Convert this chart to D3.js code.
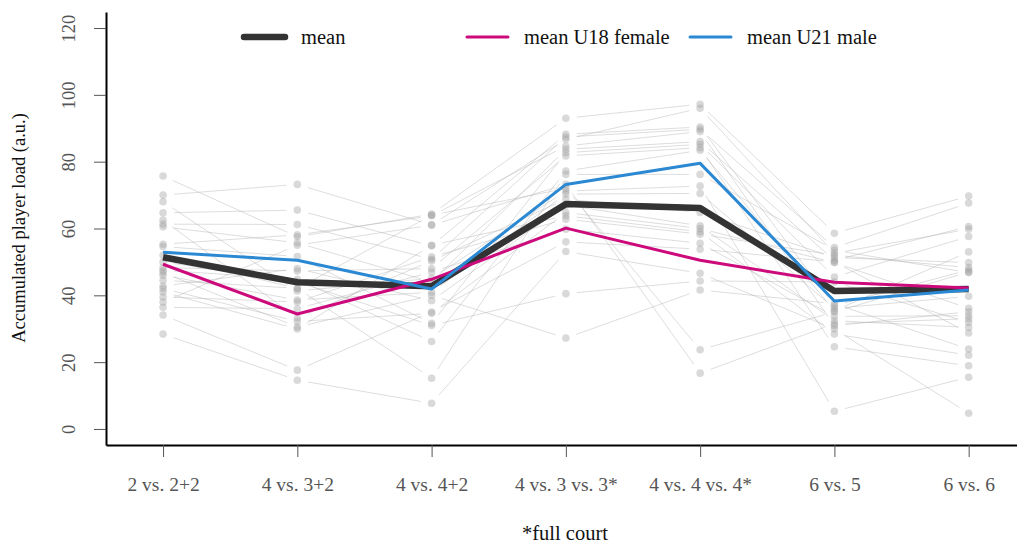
<!DOCTYPE html>
<html lang="en">
<head>
<meta charset="UTF-8">
<title>Accumulated player load</title>
<script src="https://d3js.org/d3.v7.min.js"></script>
<style>
  body { margin: 0; background: #fff; }
  svg text { font-family: "Liberation Serif", "Times New Roman", serif; }
</style>
</head>
<body>
<svg id="chart" width="1017" height="544"></svg>
<script>
// drill formats (x categories)
const drills = ["2 vs. 2+2", "4 vs. 3+2", "4 vs. 4+2", "4 vs. 3 vs. 3*", "4 vs. 4 vs. 4*", "6 vs. 5", "6 vs. 6"];

// individual players, one array per drill (same player order in each)
const load2v2 = [70.0, 75.7, 64.7, 61.3, 55.3, 60.5, 54.6, 48.3, 47.5, 44.5, 68.0, 46.0, 62.5, 42.8, 42.0, 41.0, 39.5, 36.4, 34.1, 28.4, 50.0, 46.8, 52.0, 38.0];
const load4v3 = [73.2, 57.5, 65.5, 61.2, 58.1, 55.7, 51.6, 47.3, 44.8, 42.1, 41.3, 38.6, 33.2, 48.0, 32.2, 29.9, 38.0, 36.0, 17.6, 14.6, 44.0, 30.5, 42.0, 55.0];
const load4v4 = [61.1, 64.3, 54.8, 50.8, 63.8, 44.0, 31.6, 48.0, 26.2, 15.2, 45.1, 40.9, 50.3, 38.4, 34.6, 55.0, 51.5, 47.0, 35.0, 7.7, 31.0, 40.0, 64.0, 61.0];
const load4v3v3 = [86.7, 93.0, 88.2, 87.4, 84.7, 83.7, 82.7, 81.7, 77.2, 76.2, 71.2, 70.3, 68.8, 67.0, 64.8, 63.8, 62.8, 59.8, 56.0, 53.1, 40.5, 27.2, 72.0, 73.2];
const load4v4v4 = [96.0, 97.2, 90.4, 89.7, 89.0, 86.0, 85.2, 84.2, 83.4, 76.2, 72.7, 70.5, 64.8, 60.8, 60.0, 59.0, 58.3, 55.6, 53.8, 46.6, 44.3, 41.6, 23.7, 16.7];
const load6v5 = [52.6, 58.6, 36.9, 54.3, 30.9, 50.5, 45.5, 24.6, 35.4, 53.5, 5.3, 36.1, 51.3, 32.4, 49.8, 28.4, 52.0, 33.7, 50.0, 29.9, 44.0, 37.5, 35.0, 31.5];
const load6v6 = [59.8, 69.7, 47.6, 67.6, 35.1, 60.6, 57.6, 18.9, 53.0, 46.8, 15.5, 39.7, 49.8, 30.4, 36.1, 22.1, 48.3, 33.9, 28.7, 4.7, 31.9, 23.9, 47.0, 33.0];

// group means
const meanAll = [51.4, 43.9, 42.7, 67.3, 66.1, 41.3, 41.9];
const meanU18 = [49.3, 34.4, 44.8, 60.1, 50.5, 43.9, 42.2];
const meanU21 = [52.9, 50.5, 41.9, 73.2, 79.5, 38.3, 41.6];

const yTicks = [0, 20, 40, 60, 80, 100, 120];

const columns = [load2v2, load4v3, load4v4, load4v3v3, load4v4v4, load6v5, load6v6];
const nPlayers = load2v2.length;

const svg = d3.select("#chart");

const x = d3.scaleLinear().domain([-0.425, 6.36]).range([106, 1017]);
const y = d3.scaleLinear().domain([-4.8, 124.8]).range([445, 12]);

// individual player lines (type "b": gaps around the points)
const gap = 11;
const segs = [];
for (let p = 0; p < nPlayers; p++) {
    for (let i = 0; i < columns.length - 1; i++) {
        const x1 = x(i), y1 = y(columns[i][p]);
        const x2 = x(i + 1), y2 = y(columns[i + 1][p]);
        const len = Math.hypot(x2 - x1, y2 - y1);
        const ux = (x2 - x1) / len, uy = (y2 - y1) / len;
        segs.push([x1 + ux * gap, y1 + uy * gap, x2 - ux * gap, y2 - uy * gap]);
    }
}

svg.append("g")
    .selectAll("line")
    .data(segs)
    .join("line")
    .attr("x1", d => d[0]).attr("y1", d => d[1])
    .attr("x2", d => d[2]).attr("y2", d => d[3])
    .attr("stroke", "#b4b4b4")
    .attr("stroke-opacity", 0.45)
    .attr("stroke-width", 1);

const pts = [];
columns.forEach((col, i) => col.forEach(v => pts.push([i, v])));

svg.append("g")
    .selectAll("circle")
    .data(pts)
    .join("circle")
    .attr("cx", d => x(d[0]))
    .attr("cy", d => y(d[1]))
    .attr("r", 3.8)
    .attr("fill", "#a0a0a0")
    .attr("fill-opacity", 0.4);

// mean lines
const line = d3.line().x((d, i) => x(i)).y(d => y(d));
const means = [
    { vals: meanAll, color: "#333333", w: 6.5 },
    { vals: meanU18, color: "#cc0a7c", w: 3 },
    { vals: meanU21, color: "#2b88d3", w: 3 }
];
svg.append("g")
    .selectAll("path")
    .data(means)
    .join("path")
    .attr("d", d => line(d.vals))
    .attr("fill", "none")
    .attr("stroke", d => d.color)
    .attr("stroke-width", d => d.w)
    .attr("stroke-linejoin", "round");

// axes
const xAxis = svg.append("g")
    .attr("transform", "translate(0,445)")
    .call(d3.axisBottom(x)
        .tickValues(d3.range(drills.length))
        .tickFormat(i => drills[i])
        .tickSize(12)
        .tickSizeOuter(0)
        .tickPadding(27));
xAxis.select(".domain").attr("stroke", "#000").attr("stroke-width", 2);
xAxis.selectAll(".tick line").attr("stroke", "#555");
xAxis.selectAll(".tick text")
    .attr("fill", "#555")
    .style("font-size", "19.5px")
    .attr("dy", "0.35em");

const yAxis = svg.append("g")
    .attr("transform", "translate(106,0)")
    .call(d3.axisLeft(y).tickValues(yTicks).tickSize(12).tickSizeOuter(0));
yAxis.select(".domain").attr("stroke", "#000").attr("stroke-width", 2);
yAxis.selectAll(".tick line").attr("stroke", "#555");
yAxis.selectAll(".tick text")
    .attr("fill", "#555")
    .style("font-size", "18.5px")
    .attr("x", null).attr("dy", null)
    .attr("text-anchor", "middle")
    .attr("transform", "translate(-31,0) rotate(-90)");

svg.append("text")
    .attr("transform", "translate(25,228) rotate(-90)")
    .attr("text-anchor", "middle")
    .style("font-size", "18.5px")
    .attr("fill", "#111")
    .text("Accumulated player load (a.u.)");

svg.append("text")
    .attr("x", 565)
    .attr("y", 540)
    .attr("text-anchor", "middle")
    .style("font-size", "20.5px")
    .attr("fill", "#111")
    .text("*full court");

// legend
const legend = [
    { label: "mean", color: "#333333", w: 6.5, x: 244 },
    { label: "mean U18 female", color: "#cc0a7c", w: 3, x: 467 },
    { label: "mean U21 male", color: "#2b88d3", w: 3, x: 690 }
];
const lg = svg.append("g").selectAll("g").data(legend).join("g")
    .attr("transform", d => `translate(${d.x},37)`);
lg.append("line")
    .attr("x1", 0).attr("x2", 41)
    .attr("stroke", d => d.color)
    .attr("stroke-width", d => d.w)
    .attr("stroke-linecap", "round");
lg.append("text")
    .attr("x", 57)
    .attr("dy", "0.32em")
    .style("font-size", "20.5px")
    .attr("fill", "#111")
    .text(d => d.label);
</script>
</body>
</html>
